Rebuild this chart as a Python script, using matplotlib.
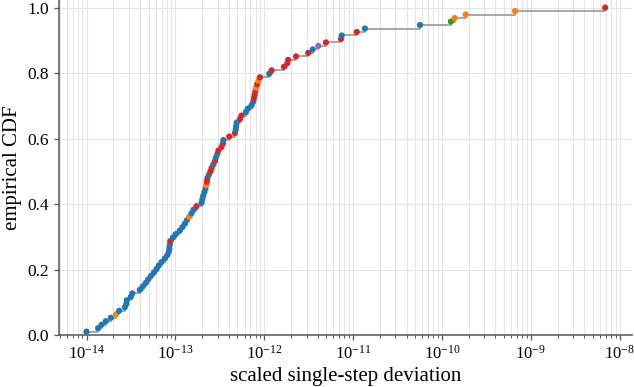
import numpy as np
import matplotlib
matplotlib.use("Agg")
import matplotlib.pyplot as plt

# scaled single-step deviation of each run, sorted, with its colour group
deviation = [
    1.00e-14, 1.35e-14, 1.48e-14, 1.65e-14, 1.88e-14, 2.15e-14, 2.33e-14, 2.70e-14,
    2.81e-14, 2.84e-14, 3.15e-14, 3.28e-14, 3.98e-14, 4.31e-14, 4.65e-14, 4.94e-14,
    5.30e-14, 5.73e-14, 6.14e-14, 6.52e-14, 7.00e-14, 7.62e-14, 8.13e-14, 8.45e-14,
    8.56e-14, 8.67e-14, 8.79e-14, 9.37e-14, 1.01e-13, 1.12e-13, 1.20e-13, 1.28e-13,
    1.35e-13, 1.43e-13, 1.52e-13, 1.60e-13, 1.73e-13, 1.97e-13, 2.01e-13, 2.06e-13,
    2.12e-13, 2.18e-13, 2.22e-13, 2.26e-13, 2.29e-13, 2.38e-13, 2.48e-13, 2.56e-13,
    2.68e-13, 2.79e-13, 2.86e-13, 2.97e-13, 3.05e-13, 3.30e-13, 3.43e-13, 3.47e-13,
    4.04e-13, 4.68e-13, 4.78e-13, 4.83e-13, 4.90e-13, 5.33e-13, 5.54e-13, 6.22e-13,
    6.55e-13, 7.21e-13, 7.52e-13, 7.66e-13, 7.80e-13, 7.96e-13, 8.13e-13, 8.34e-13,
    8.61e-13, 8.95e-13, 1.14e-12, 1.21e-12, 1.67e-12, 1.82e-12, 1.86e-12, 2.28e-12,
    3.13e-12, 3.51e-12, 4.06e-12, 4.95e-12, 7.31e-12, 7.44e-12, 1.10e-11, 1.36e-11,
    5.66e-11, 1.26e-10, 1.39e-10, 1.85e-10, 6.65e-10, 6.87e-09,
]
group = (
    "BBBBBOBBBBBBBBBBBBBBBBBBBBRBBBBBBOBBR"
    "BBBBBORRBRRBRBBRRRBRRBBBRRBBBBRRROROR"
    "BRRRRRRBPRRBRBBGOOOR"
)
palette = {"B": "#1f77b4", "O": "#ff7f0e", "G": "#2ca02c", "R": "#d62728", "P": "#9467bd"}

plt.rcParams["font.family"] = ["Liberation Serif", "DejaVu Serif"]
plt.rcParams["mathtext.fontset"] = "stix"

x = np.array(deviation)
n = len(x)
y = np.arange(1, n + 1) / n
colors = [palette[g] for g in group]

fig = plt.figure(figsize=(6.34, 3.87), dpi=100)
ax = fig.add_axes([0.093, 0.134, 0.904, 0.865])

ax.step(x, y, where="post", color="#a0a0a0", lw=1.3, zorder=2)
ax.scatter(x, y, c=colors, s=20, zorder=3, edgecolors="none")

ax.set_xscale("log")
ax.set_xlim(10 ** -14.31, 10 ** -7.86)
ax.set_ylim(0, 1.022)
ax.set_xticks([1e-14, 1e-13, 1e-12, 1e-11, 1e-10, 1e-9, 1e-8])
ax.set_yticks([0.0, 0.2, 0.4, 0.6, 0.8, 1.0])

ax.grid(which="both", axis="x", color="#e6e6e6", lw=0.8, zorder=0)
ax.grid(which="major", axis="y", color="#e6e6e6", lw=0.8, zorder=0)
ax.set_axisbelow(True)

for s in ["top", "right"]:
    ax.spines[s].set_visible(False)
for s in ["left", "bottom"]:
    ax.spines[s].set_color("#555555")
    ax.spines[s].set_linewidth(1.1)
ax.tick_params(which="major", length=3.5, width=0.9, color="#555555", labelsize=12.5)
ax.tick_params(axis="x", which="major", labelsize=12)
ax.tick_params(which="minor", length=2, width=0.7, color="#555555")

ax.set_xlabel("scaled single-step deviation", fontsize=15, labelpad=3)
ax.set_ylabel("empirical CDF", fontsize=15)

fig.savefig("out.png", dpi=100)
